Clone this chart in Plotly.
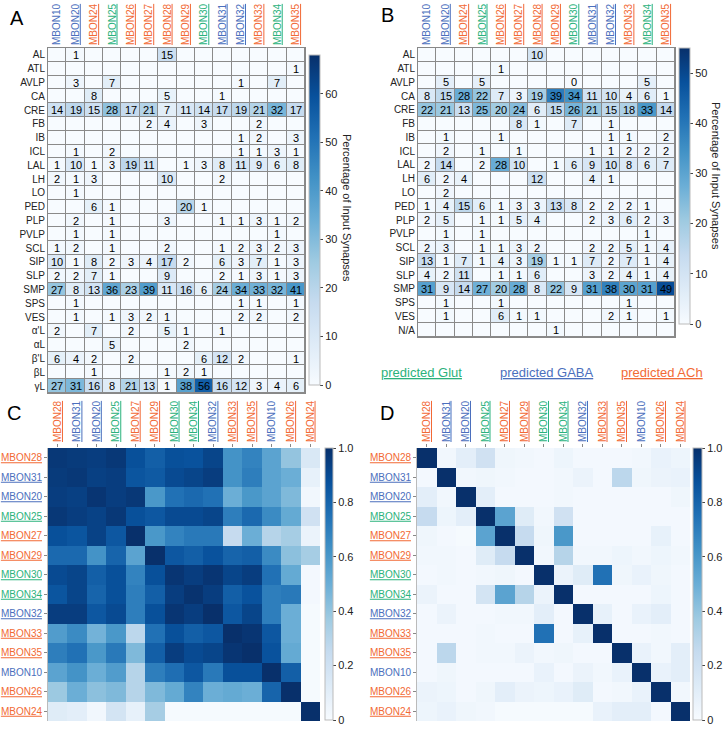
import plotly.graph_objects as go

# ---------------- data ----------------
mbon_cols = ["MBON10", "MBON20", "MBON24", "MBON25", "MBON26", "MBON27", "MBON28",
             "MBON29", "MBON30", "MBON31", "MBON32", "MBON33", "MBON34", "MBON35"]
transmitter = {"MBON10": "GABA", "MBON20": "GABA", "MBON24": "ACh", "MBON25": "Glut",
               "MBON26": "ACh", "MBON27": "ACh", "MBON28": "ACh", "MBON29": "ACh",
               "MBON30": "Glut", "MBON31": "GABA", "MBON32": "GABA", "MBON33": "ACh",
               "MBON34": "Glut", "MBON35": "ACh"}

rows_a = ["AL", "ATL", "AVLP", "CA", "CRE", "FB", "IB", "ICL", "LAL", "LH", "LO", "PED",
          "PLP", "PVLP", "SCL", "SIP", "SLP", "SMP", "SPS", "VES", "α'L", "αL", "β'L",
          "βL", "γL"]
N = None
vals_a = [
    [N, 1, N, N, N, N, 15, N, N, N, N, N, N, N],
    [N, N, N, N, N, N, N, N, N, N, N, N, N, 1],
    [N, 3, N, 7, N, N, N, N, N, N, 1, N, 7, N],
    [N, N, 8, N, N, N, 5, N, N, 1, N, N, N, N],
    [14, 19, 15, 28, 17, 21, 7, 11, 14, 17, 19, 21, 32, 17],
    [N, N, N, N, N, 2, 4, N, 3, N, N, 2, N, N],
    [N, N, N, N, N, N, N, N, N, N, 1, 2, N, 3],
    [N, 1, N, 2, N, N, N, N, N, N, 1, 1, 3, 1],
    [1, 10, 1, 3, 19, 11, N, 1, 3, 8, 11, 9, 6, 8],
    [2, 1, 3, N, N, N, 10, N, N, 2, N, N, N, N],
    [N, 1, N, N, N, N, N, N, N, N, N, N, N, N],
    [N, N, 6, 1, N, N, N, 20, 1, N, N, N, N, N],
    [N, 2, N, 1, N, N, 3, N, N, 1, 1, 3, 1, 2],
    [N, 1, N, 1, N, N, N, N, N, N, N, N, 1, N],
    [1, 2, N, 1, N, N, 2, N, N, 1, 2, 3, 2, 3],
    [10, 1, 8, 2, 3, 4, 17, 2, N, 6, 3, 7, 1, 3],
    [2, 2, 7, 1, N, N, 9, N, N, 2, 1, 3, 1, 3],
    [27, 8, 13, 36, 23, 39, 11, 16, 6, 24, 34, 33, 32, 41],
    [N, 1, N, N, N, N, N, N, N, N, 1, 1, N, 1],
    [N, 1, N, 1, 3, 2, 1, N, N, N, 2, 2, N, 2],
    [2, N, 7, N, 2, N, 5, 1, N, 1, N, N, N, N],
    [N, N, N, 5, N, N, N, 2, N, N, N, N, N, N],
    [6, 4, 2, N, 2, N, N, N, 6, 12, 2, N, N, 1],
    [N, N, 1, N, N, N, 1, 2, 1, N, N, N, N, N],
    [27, 31, 16, 8, 21, 13, 1, 38, 56, 16, 12, 3, 4, 6],
]

rows_b = ["AL", "ATL", "AVLP", "CA", "CRE", "FB", "IB", "ICL", "LAL", "LH", "LO", "PED",
          "PLP", "PVLP", "SCL", "SIP", "SLP", "SMP", "SPS", "VES", "N/A"]
vals_b = [
    [N, N, N, N, N, N, 10, N, N, N, N, N, N, N],
    [N, N, N, N, 1, N, N, N, N, N, N, N, N, N],
    [N, 5, N, 5, N, N, N, N, 0.4, N, N, N, 5, N],
    [8, 15, 28, 22, 7, 3, 19, 39, 34, 11, 10, 4, 6, 1],
    [22, 21, 13, 25, 20, 24, 6, 15, 26, 21, 15, 18, 33, 14],
    [N, N, N, N, N, 8, 1, N, 7, N, 1, N, N, N],
    [N, 1, N, N, 1, N, N, N, N, N, 1, 1, N, 2],
    [N, 2, N, 1, N, 1, N, N, N, 1, 1, 2, 2, 2],
    [2, 14, N, 2, 28, 10, N, 1, 6, 9, 10, 8, 6, 7],
    [6, 2, 4, N, N, N, 12, N, N, 4, 1, N, N, N],
    [N, 2, N, N, N, N, N, N, N, N, N, N, N, N],
    [1, 4, 15, 6, 1, 3, 3, 13, 8, 2, 2, 2, 1, N],
    [2, 5, N, 1, 1, 5, 4, N, N, 2, 3, 6, 2, 3],
    [N, 1, N, 1, N, N, N, N, N, N, N, N, 1, N],
    [2, 3, N, 1, 1, 3, 2, N, N, 2, 2, 5, 1, 4],
    [13, 1, 7, 1, 4, 3, 19, 1, 1, 7, 2, 7, 1, 4],
    [4, 2, 11, N, 1, 1, 6, N, N, 3, 2, 4, 1, 4],
    [31, 9, 14, 27, 20, 28, 8, 22, 9, 31, 38, 30, 31, 49],
    [N, 1, N, N, 1, N, N, N, N, N, N, 1, N, N],
    [N, 1, N, N, 6, 1, 1, N, N, N, 2, 1, N, 1],
    [N, N, N, N, N, N, N, 1, N, N, N, N, N, N],
]

order_cd = ["MBON28", "MBON31", "MBON20", "MBON25", "MBON27", "MBON29", "MBON30",
            "MBON34", "MBON32", "MBON33", "MBON35", "MBON10", "MBON26", "MBON24"]
corr_c = [
    [0.97, 0.96, 0.95, 0.97, 0.88, 0.82, 0.88, 0.87, 0.92, 0.62, 0.68, 0.55, 0.40, 0.15],
    [0.96, 0.97, 0.94, 0.95, 0.86, 0.84, 0.90, 0.92, 0.95, 0.62, 0.70, 0.55, 0.50, 0.08],
    [0.95, 0.94, 0.98, 0.95, 0.97, 0.60, 0.75, 0.78, 0.75, 0.50, 0.60, 0.55, 0.45, 0.03],
    [0.97, 0.95, 0.93, 0.97, 0.88, 0.85, 0.90, 0.90, 0.92, 0.70, 0.78, 0.65, 0.52, 0.20],
    [0.88, 0.86, 0.93, 0.85, 1.00, 0.60, 0.68, 0.72, 0.72, 0.25, 0.50, 0.30, 0.35, 0.06],
    [0.78, 0.78, 0.62, 0.80, 0.55, 1.00, 0.85, 0.82, 0.87, 0.80, 0.82, 0.65, 0.42, 0.35],
    [0.90, 0.92, 0.82, 0.88, 0.68, 0.88, 0.98, 0.95, 0.98, 0.92, 0.95, 0.75, 0.52, 0.02],
    [0.86, 0.92, 0.80, 0.88, 0.70, 0.82, 0.95, 0.99, 0.95, 0.82, 0.87, 0.70, 0.72, 0.02],
    [0.95, 0.95, 0.85, 0.90, 0.70, 0.88, 0.98, 0.95, 1.00, 0.85, 0.92, 0.70, 0.50, 0.01],
    [0.58, 0.65, 0.48, 0.60, 0.28, 0.75, 0.88, 0.82, 0.85, 1.00, 0.98, 0.85, 0.50, 0.01],
    [0.70, 0.75, 0.60, 0.72, 0.45, 0.82, 0.95, 0.90, 0.92, 0.98, 1.00, 0.87, 0.52, 0.01],
    [0.55, 0.62, 0.50, 0.58, 0.30, 0.70, 0.76, 0.85, 0.72, 0.88, 0.88, 1.00, 0.82, 0.01],
    [0.38, 0.50, 0.42, 0.45, 0.30, 0.45, 0.52, 0.68, 0.50, 0.52, 0.50, 0.80, 1.00, 0.01],
    [0.12, 0.10, 0.03, 0.18, 0.08, 0.35, 0.01, 0.01, 0.01, 0.01, 0.01, 0.01, 0.01, 1.00],
]
corr_d = [
    [1.00, 0.03, 0.10, 0.20, 0.04, 0.03, 0.02, 0.05, 0.02, 0.02, 0.02, 0.03, 0.07, 0.05],
    [0.02, 1.00, 0.03, 0.04, 0.03, 0.02, 0.02, 0.03, 0.06, 0.02, 0.28, 0.04, 0.06, 0.07],
    [0.10, 0.03, 1.00, 0.10, 0.02, 0.02, 0.02, 0.03, 0.02, 0.02, 0.02, 0.02, 0.02, 0.04],
    [0.25, 0.05, 0.10, 1.00, 0.55, 0.12, 0.03, 0.20, 0.02, 0.02, 0.02, 0.02, 0.02, 0.02],
    [0.04, 0.02, 0.01, 0.55, 1.00, 0.25, 0.04, 0.60, 0.02, 0.02, 0.02, 0.02, 0.08, 0.02],
    [0.03, 0.03, 0.02, 0.12, 0.25, 1.00, 0.03, 0.30, 0.03, 0.03, 0.05, 0.03, 0.05, 0.03],
    [0.02, 0.03, 0.02, 0.03, 0.04, 0.02, 1.00, 0.06, 0.12, 0.75, 0.04, 0.07, 0.04, 0.02],
    [0.06, 0.02, 0.02, 0.18, 0.55, 0.30, 0.06, 1.00, 0.02, 0.02, 0.02, 0.02, 0.05, 0.02],
    [0.02, 0.06, 0.02, 0.02, 0.03, 0.03, 0.10, 0.02, 1.00, 0.08, 0.02, 0.07, 0.10, 0.02],
    [0.02, 0.02, 0.02, 0.03, 0.02, 0.02, 0.75, 0.02, 0.08, 1.00, 0.02, 0.02, 0.03, 0.02],
    [0.02, 0.28, 0.02, 0.03, 0.03, 0.06, 0.03, 0.04, 0.02, 0.02, 1.00, 0.07, 0.03, 0.10],
    [0.02, 0.04, 0.02, 0.02, 0.02, 0.02, 0.07, 0.02, 0.06, 0.03, 0.07, 1.00, 0.07, 0.10],
    [0.06, 0.05, 0.02, 0.04, 0.10, 0.06, 0.05, 0.07, 0.12, 0.02, 0.03, 0.07, 1.00, 0.03],
    [0.05, 0.07, 0.04, 0.03, 0.01, 0.01, 0.01, 0.01, 0.01, 0.07, 0.10, 0.10, 0.02, 1.00],
]

legend_labels = ["predicted Glut", "predicted GABA", "predicted ACh"]
legend_types = ["Glut", "GABA", "ACh"]
cb_ab_ticks = [0, 10, 20, 30, 40, 50, 60]
cb_cd_ticks = [0, 0.2, 0.4, 0.6, 0.8, 1.0]
cb_cd_text = ["0", "0.2", "0.4", "0.6", "0.8", "1.0"]

# ---------------- styling ----------------
W, H = 725, 729
FONT = "Liberation Sans, Arial, sans-serif"
TCOL = {"GABA": "#4b6fbd", "Glut": "#2bb27c", "ACh": "#f26a35"}


def lab(name):
    c = TCOL[transmitter[name]]
    if name == "MBON10":
        return f"<span style='color:{c}'>{name}</span>"
    return f"<span style='color:{c}'><u>{name}</u></span>"


def px(x0, x1):
    return [x0 / W, x1 / W]


def py(y0, y1):
    return [1 - y1 / H, 1 - y0 / H]


def zfill(vals):
    return [[0 if v is None else v for v in r] for r in vals]


def tfill(vals):
    return [["" if v is None else str(int(round(v))) for v in r] for r in vals]


fig = go.Figure()

col_labels = [lab(c) for c in mbon_cols]


def cbar(x, y0, y1, thick, tickvals, ticktext=None, fsize=11):
    d = dict(x=x / W, xanchor="left", xpad=0, ypad=0,
             y=1 - (y0 + y1) / 2 / H, yanchor="middle", len=(y1 - y0) / H,
             lenmode="fraction", thickness=thick, outlinewidth=1, outlinecolor="#bbbbbb",
             ticks="outside", ticklen=3, tickcolor="#444", tickwidth=1,
             tickfont=dict(family=FONT, size=fsize, color="#222"), tickvals=tickvals)
    if ticktext:
        d["ticktext"] = ticktext
    return d


# Panel A
fig.add_trace(go.Heatmap(
    z=zfill(vals_a), x=col_labels, y=rows_a, text=tfill(vals_a), texttemplate="%{text}",
    textfont=dict(family=FONT, size=11, color="black"), colorscale="Blues", zmin=0, zmax=68,
    xgap=1, ygap=1, xaxis="x", yaxis="y", hoverinfo="skip",
    colorbar=cbar(309, 55, 385, 11, cb_ab_ticks)))
# Panel B
fig.add_trace(go.Heatmap(
    z=zfill(vals_b), x=col_labels, y=rows_b, text=tfill(vals_b), texttemplate="%{text}",
    textfont=dict(family=FONT, size=11, color="black"), colorscale="Blues", zmin=0, zmax=55,
    xgap=1, ygap=1, xaxis="x2", yaxis="y2", hoverinfo="skip",
    colorbar=cbar(679, 48, 324, 11, cb_ab_ticks[:-1])))
# Panel C
cd_labels = [lab(c) for c in order_cd]
fig.add_trace(go.Heatmap(
    z=corr_c, x=cd_labels, y=cd_labels, colorscale="Blues", zmin=0, zmax=1,
    xaxis="x3", yaxis="y3", hoverinfo="skip",
    colorbar=cbar(325, 448, 720, 8, cb_cd_ticks, cb_cd_text, 11)))
# Panel D
fig.add_trace(go.Heatmap(
    z=corr_d, x=cd_labels, y=cd_labels, colorscale="Blues", zmin=0, zmax=1,
    xaxis="x4", yaxis="y4", hoverinfo="skip",
    colorbar=cbar(693, 448, 720, 9, cb_cd_ticks, cb_cd_text, 11)))

tick_font_ab = dict(family=FONT, size=10, color="#222")
tick_font_cd = dict(family=FONT, size=10, color="#222")


def xa(dom, anchor, font, ticks=""):
    return dict(domain=dom, anchor=anchor, side="top", tickangle=-90, tickfont=font,
                automargin=False, showgrid=False, zeroline=False, showline=True,
                linecolor="#888", linewidth=1, mirror=True, ticks=ticks, ticklen=3,
                tickcolor="#888")


def ya(dom, anchor, font, ticks=""):
    return dict(domain=dom, anchor=anchor, autorange="reversed", tickfont=font,
                automargin=False, showgrid=False, zeroline=False, showline=True,
                linecolor="#888", linewidth=1, mirror=True, ticks=ticks, ticklen=3,
                tickcolor="#888")


xa1 = xa(px(48, 305), "y", tick_font_ab)
ya1 = ya(py(48, 393), "x", tick_font_ab)
xa2 = xa(px(418, 675), "y2", tick_font_ab)
ya2 = ya(py(48, 337), "x2", tick_font_ab)
xa3 = xa(px(48, 320), "y3", tick_font_cd, "outside")
ya3 = ya(py(448, 721), "x3", tick_font_cd, "outside")
xa4 = xa(px(417, 690), "y4", tick_font_cd, "outside")
ya4 = ya(py(448, 721), "x4", tick_font_cd, "outside")
for a in (xa3, xa4, ya3, ya4):
    a["linecolor"] = "#bbbbbb"
    a["mirror"] = False
xa3["showline"] = False
xa4["showline"] = False

annotations = []
for txt, x, y in [("A", 17, 18), ("B", 387, 15), ("C", 14, 413), ("D", 387, 413)]:
    annotations.append(dict(text=txt, x=x / W, y=1 - y / H, xref="paper", yref="paper",
                            xanchor="center", yanchor="middle", showarrow=False,
                            font=dict(family=FONT, size=20, color="black")))
for txt, x, y in [("Percentage of Input Synapses", 347, 208),
                  ("Percentage of Input Synapses", 716, 176)]:
    annotations.append(dict(text=txt, x=x / W, y=1 - y / H, xref="paper", yref="paper",
                            xanchor="center", yanchor="middle", showarrow=False,
                            textangle=90, font=dict(family=FONT, size=11, color="#222")))
for txt, t, x in zip(legend_labels, legend_types, [421, 547, 662]):
    annotations.append(dict(text=f"<u>{txt}</u>", x=x / W, y=1 - 372 / H, xref="paper",
                            yref="paper", xanchor="center", yanchor="middle",
                            showarrow=False, font=dict(family=FONT, size=13, color=TCOL[t])))

fig.update_layout(
    width=W, height=H, margin=dict(l=0, r=0, t=0, b=0),
    paper_bgcolor="white", plot_bgcolor="#8a8a8a",
    font=dict(family=FONT),
    xaxis=xa1, yaxis=ya1, xaxis2=xa2, yaxis2=ya2, xaxis3=xa3, yaxis3=ya3,
    xaxis4=xa4, yaxis4=ya4, annotations=annotations, showlegend=False)

fig.write_html("out.html", config={"displayModeBar": False},
               post_script="document.body.style.margin='0';document.body.style.overflow='hidden';")
